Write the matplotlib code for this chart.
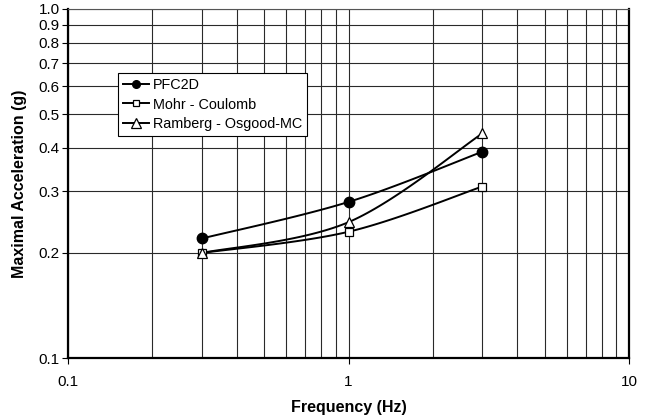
import numpy as np
import matplotlib
matplotlib.use("Agg")
import matplotlib.pyplot as plt
from matplotlib.lines import Line2D
from matplotlib.ticker import FixedLocator, FixedFormatter, NullLocator, NullFormatter

plt.rcParams['font.family'] = ['Liberation Sans', 'DejaVu Sans']

freq = [0.3, 1.0, 3.0]
pfc2d = [0.22, 0.28, 0.39]
mohr_coulomb = [0.20, 0.23, 0.31]
ramberg_osgood = [0.20, 0.245, 0.44]

series_names = ["PFC2D", "Mohr - Coulomb", "Ramberg - Osgood-MC"]
y_ticks = [0.1, 0.2, 0.3, 0.4, 0.5, 0.6, 0.7, 0.8, 0.9, 1.0]
y_tick_labels = ["0.1", "0.2", "0.3", "0.4", "0.5", "0.6", "0.7", "0.8", "0.9", "1.0"]
x_ticks = [0.1, 1, 10]
x_tick_labels = ["0.1", "1", "10"]


def smooth_loglog(x, y, n=40):
    """Catmull-Rom style smoothed curve through points in log-log space."""
    lx, ly = np.log10(x), np.log10(y)
    P = np.column_stack([lx, ly])
    out = []
    for i in range(len(P) - 1):
        p0 = P[i - 1] if i > 0 else P[i]
        p1, p2 = P[i], P[i + 1]
        p3 = P[i + 2] if i + 2 < len(P) else P[i + 1]
        c1 = p1 + (p2 - p0) / 6.0
        c2 = p2 - (p3 - p1) / 6.0
        t = np.linspace(0, 1, n)[:, None]
        seg = ((1 - t) ** 3) * p1 + 3 * ((1 - t) ** 2) * t * c1 + 3 * (1 - t) * t ** 2 * c2 + t ** 3 * p2
        out.append(seg if i == 0 else seg[1:])
    seg = np.vstack(out)
    return 10 ** seg[:, 0], 10 ** seg[:, 1]


W, H = 656, 419
L, R, T, B = 68, 629, 9, 358
fig = plt.figure(figsize=(W / 100, H / 100), dpi=100)
ax = fig.add_axes([L / W, (H - B) / H, (R - L) / W, (B - T) / H])
ax.set_xscale("log")
ax.set_yscale("log")
ax.set_xlim(0.1, 10)
ax.set_ylim(0.1, 1.0)

# grid at every decade subdivision
ax.xaxis.set_major_locator(FixedLocator(x_ticks))
ax.xaxis.set_major_formatter(FixedFormatter(x_tick_labels))
ax.xaxis.set_minor_locator(FixedLocator([k * d for d in (0.1, 1) for k in range(2, 10)]))
ax.xaxis.set_minor_formatter(NullFormatter())
ax.yaxis.set_major_locator(FixedLocator(y_ticks))
ax.yaxis.set_major_formatter(FixedFormatter(y_tick_labels))
ax.yaxis.set_minor_locator(NullLocator())
ax.grid(True, which="both", color="#2a2a2a", linewidth=0.8)
ax.set_axisbelow(True)

ax.tick_params(axis="x", which="major", length=4, width=0.8, direction="out", pad=8, labelsize=11)
ax.tick_params(axis="x", which="minor", length=0)
ax.tick_params(axis="y", which="major", length=4, width=0.8, direction="out", labelsize=11, pad=2)

for side in ("left", "bottom", "right"):
    ax.spines[side].set_linewidth(1.6)
ax.spines["top"].set_linewidth(0.8)
ax.spines["top"].set_color("#555555")

styles = [
    dict(marker="o", markersize=7.5, markerfacecolor="black", markeredgecolor="black"),
    dict(marker="s", markersize=5.5, markerfacecolor="white", markeredgecolor="black", markeredgewidth=0.9),
    dict(marker="^", markersize=7.5, markerfacecolor="white", markeredgecolor="black", markeredgewidth=0.9),
]
legend_sizes = [5.5, 4.5, 6.5]

handles = []
for yv, name, st, ls in zip([pfc2d, mohr_coulomb, ramberg_osgood], series_names, styles, legend_sizes):
    sx, sy = smooth_loglog(np.array(freq), np.array(yv))
    ax.plot(sx, sy, color="black", linewidth=1.4, zorder=3)
    ax.plot(freq, yv, linestyle="none", zorder=4, **st)
    hs = dict(st)
    hs["markersize"] = ls
    handles.append(Line2D([], [], color="black", linewidth=1.4, label=name, **hs))

leg = ax.legend(handles=handles, loc="upper left",
                bbox_to_anchor=((118 - L) / (R - L), (B - 73) / (B - T)),
                frameon=True, fancybox=False, edgecolor="black", framealpha=1,
                fontsize=10.4, handlelength=1.8, handletextpad=0.25,
                borderpad=0.35, labelspacing=0.38, borderaxespad=0)
leg.get_frame().set_linewidth(0.8)

ax.set_xlabel("Frequency (Hz)", fontsize=11.5, fontweight="bold", labelpad=8)
ax.set_ylabel("Maximal Acceleration (g)", fontsize=11.5, fontweight="bold", labelpad=8)

fig.savefig("out.png", dpi=100)
